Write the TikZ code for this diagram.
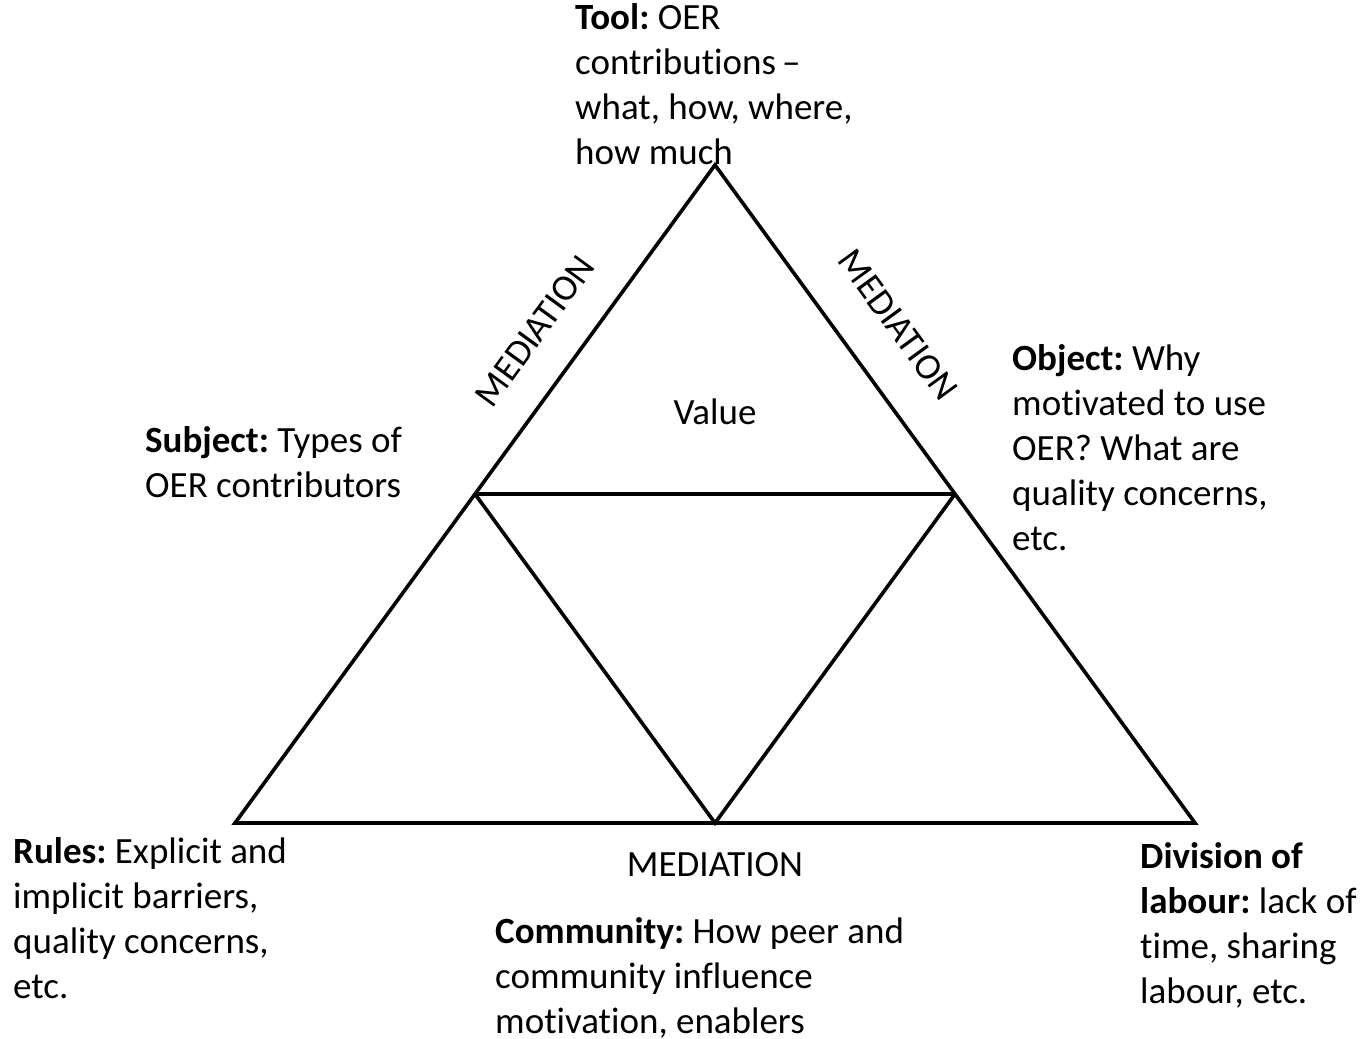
\documentclass[tikz,border=0pt]{standalone}
\usepackage{fontspec}
\setmainfont{Carlito}[Ligatures=NoCommon]
\frenchspacing
\newcommand\txtlines[1]{\begin{tabular}[t]{@{}l@{}}#1\end{tabular}}
\begin{document}
\begin{tikzpicture}[x=1pt,y=-1pt,
  edge/.style={line width=3.6pt, line join=miter, line cap=butt},
  lbl/.style={inner sep=0pt, anchor=base west, font=\fontsize{37}{45}\selectfont\frenchspacing},
  ctr/.style={inner sep=0pt, anchor=base, font=\fontsize{37}{45}\selectfont},
  med/.style={inner sep=0pt, anchor=center, font=\fontsize{37}{45}\selectfont}]
\useasboundingbox (0,0) rectangle (1372,1038);
\coordinate (top) at (715,165);
\coordinate (bl) at (235,823);
\coordinate (br) at (1195,823);
\coordinate (ml) at (475,494);
\coordinate (mr) at (955,494);
\coordinate (mb) at (715,823);
\draw[edge] (top) -- (bl) -- (br) -- cycle;
\draw[edge] (ml) -- (mr);
\draw[edge] (ml) -- (mb) -- (mr);

\node[lbl] (tool) at (575,30) {\txtlines{\textbf{Tool:} OER\\contributions\,–\\what, how, where,\\how much}};
\node[lbl] (object) at (1012,370) {\txtlines{\textbf{Object:} Why\\motivated to use\\OER? What are\\quality concerns,\\etc.}};
\node[lbl] (subject) at (145,452) {\txtlines{\textbf{Subject:} Types of\\OER contributors}};
\node[lbl] (rules) at (13,863) {\txtlines{\textbf{Rules:} Explicit and\\implicit barriers,\\quality concerns,\\etc.}};
\node[lbl] (community) at (495,943) {\txtlines{\textbf{Community:} How peer and\\community influence\\motivation, enablers}};
\node[lbl] (division) at (1140,868) {\txtlines{\textbf{Division of}\\\textbf{labour:} lack of\\time, sharing\\labour, etc.}};
\node[ctr] (value) at (715,424) {Value};
\node[ctr] (medb) at (715,876) {MEDIATION};
\node[med, rotate=53.9] (medl) at (535,331) {MEDIATION};
\node[med, rotate=-53.9] (medr) at (898,325) {MEDIATION};
\end{tikzpicture}
\end{document}
